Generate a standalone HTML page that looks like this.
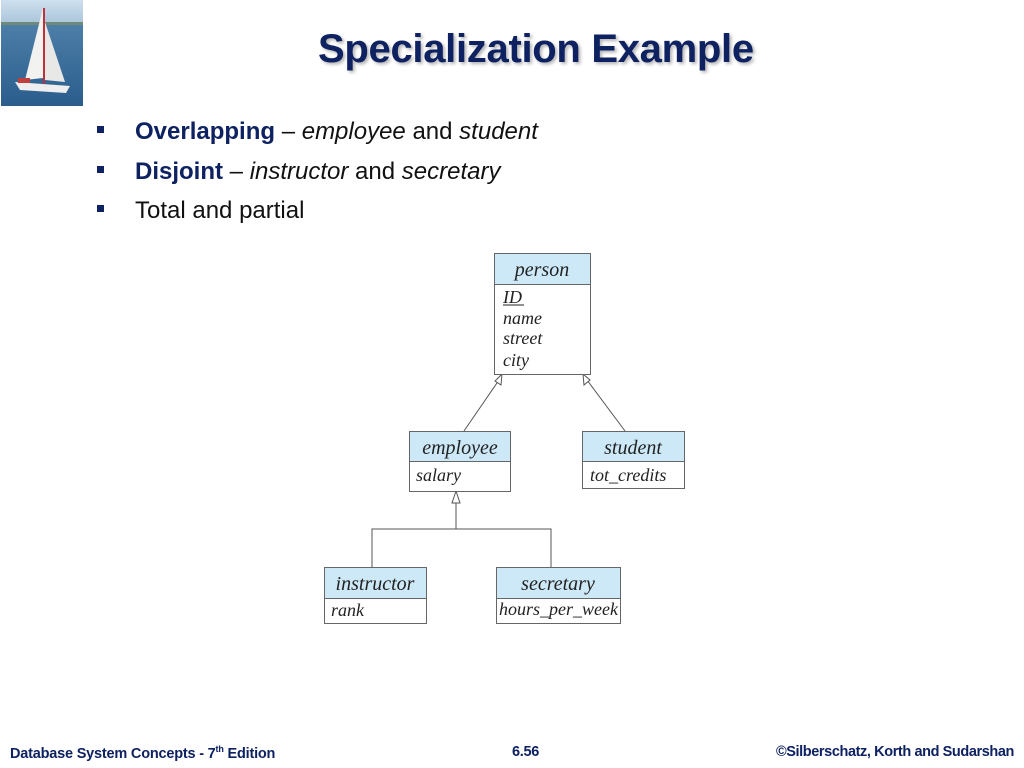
<!DOCTYPE html>
<html><head><meta charset="utf-8"><style>
html,body{margin:0;padding:0;background:#fff;}
body{width:1024px;height:768px;position:relative;overflow:hidden;font-family:"Liberation Sans",Arial,sans-serif;}
.t{position:absolute;white-space:nowrap;}
</style></head><body>
<svg width="1024" height="768" style="position:absolute;left:0;top:0">
<defs>
<linearGradient id="sky" x1="0" y1="0" x2="0" y2="1"><stop offset="0" stop-color="#cfe0ee"/><stop offset="1" stop-color="#a9c4da"/></linearGradient>
<linearGradient id="sea" x1="0" y1="0" x2="0" y2="1"><stop offset="0" stop-color="#4d7ea8"/><stop offset="1" stop-color="#2a5d8c"/></linearGradient>
</defs>
<rect x="1" y="0" width="82" height="24" fill="url(#sky)"/>
<rect x="1" y="22" width="82" height="4" fill="#6f8a7a"/>
<rect x="1" y="25" width="82" height="81" fill="url(#sea)"/>
<polygon points="43,8 25,80 43,78" fill="#f2f2f0"/>
<polygon points="45,22 45,80 65,82" fill="#e8e8e6"/>
<line x1="44" y1="8" x2="44" y2="84" stroke="#c0303a" stroke-width="2"/>
<polygon points="15,82 70,86 66,93 20,90" fill="#eeeeee"/>
<rect x="18" y="78" width="12" height="5" fill="#c04040"/>

<g stroke="#555" stroke-width="1" fill="none">
<line x1="464" y1="431" x2="499" y2="380"/>
<line x1="625" y1="431" x2="587" y2="380"/>
<line x1="456" y1="503" x2="456" y2="529"/>
<polyline points="372,567 372,529 551,529 551,567"/>
</g>
<g stroke="#555" stroke-width="1" fill="#fff">
<polygon points="502,374 495,381 501,385"/>
<polygon points="583,374 584,385 590,380"/>
<polygon points="456,491 452,503 460,503"/>
</g>
<g stroke="#666" stroke-width="1">
<rect x="494.5" y="253.5" width="96" height="121" fill="#fff"/>
<rect x="494.5" y="253.5" width="96" height="31" fill="#cde9f7"/>
<rect x="409.5" y="431.5" width="101" height="60" fill="#fff"/>
<rect x="409.5" y="431.5" width="101" height="30" fill="#cde9f7"/>
<rect x="582.5" y="431.5" width="102" height="57" fill="#fff"/>
<rect x="582.5" y="431.5" width="102" height="30" fill="#cde9f7"/>
<rect x="324.5" y="567.5" width="102" height="56" fill="#fff"/>
<rect x="324.5" y="567.5" width="102" height="31" fill="#cde9f7"/>
<rect x="496.5" y="567.5" width="124" height="56" fill="#fff"/>
<rect x="496.5" y="567.5" width="124" height="31" fill="#cde9f7"/>
</g>
<g font-family="Liberation Serif,serif" font-style="italic" fill="#222">
<text x="542" y="276" font-size="20" text-anchor="middle">person</text>
<text x="503" y="303" font-size="18">ID</text>
<line x1="503" y1="305" x2="524" y2="305" stroke="#222" stroke-width="1"/>
<text x="503" y="324" font-size="18">name</text>
<text x="503" y="344" font-size="18">street</text>
<text x="503" y="366" font-size="18">city</text>
<text x="460" y="454" font-size="20" text-anchor="middle">employee</text>
<text x="416" y="481" font-size="18">salary</text>
<text x="633" y="454" font-size="20" text-anchor="middle">student</text>
<text x="590" y="481" font-size="18">tot_credits</text>
<text x="375" y="590" font-size="20" text-anchor="middle">instructor</text>
<text x="331" y="616" font-size="18">rank</text>
<text x="558" y="590" font-size="20" text-anchor="middle">secretary</text>
<text x="499" y="615" font-size="18" textLength="119" lengthAdjust="spacingAndGlyphs">hours_per_week</text>
</g>
</svg>
<div class="t" style="left:318px;top:27px;font-size:40px;font-weight:bold;color:#0e2161;text-shadow:2px 2px 3px rgba(0,0,0,0.3);letter-spacing:-0.3px">Specialization Example</div>
<div class="t" style="left:97px;top:119px;font-size:24px;line-height:26px;color:#111">
<div style="position:absolute;left:0;top:7px;width:7px;height:7px;background:#0e2161"></div>
<span style="position:absolute;left:38px"><b style="color:#0e2161">Overlapping</b> – <i>employee</i> and <i>student</i></span>
<div style="position:absolute;left:0;top:47px;width:7px;height:7px;background:#0e2161"></div>
<span style="position:absolute;left:38px;top:40px"><b style="color:#0e2161">Disjoint</b> – <i>instructor</i> and <i>secretary</i></span>
<div style="position:absolute;left:0;top:86px;width:7px;height:7px;background:#0e2161"></div>
<span style="position:absolute;left:38px;top:79px">Total and partial</span>
</div>
<div class="t" style="left:10px;top:744px;font-size:14.5px;font-weight:bold;color:#0e2161;letter-spacing:-0.2px">Database System Concepts - 7<sup style="font-size:9px">th</sup> Edition</div>
<div class="t" style="left:512px;top:744px;font-size:14.5px;font-weight:bold;color:#0e2161;letter-spacing:-0.3px">6.56</div>
<div class="t" style="right:10px;top:744px;font-size:14.5px;font-weight:bold;color:#0e2161;letter-spacing:-0.4px">©Silberschatz, Korth and Sudarshan</div>
</body></html>
